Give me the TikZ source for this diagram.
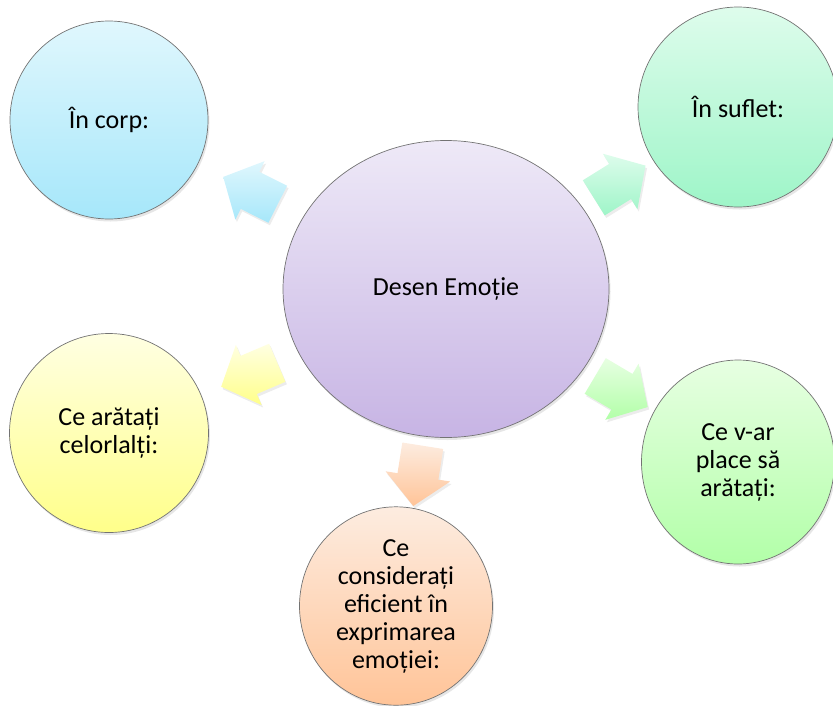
\documentclass[tikz,border=0pt]{standalone}
\usepackage{fontspec}
\setmainfont{Carlito}
\usetikzlibrary{shapes.geometric, shapes.arrows, shadows, calc}

\definecolor{corpA}{RGB}{224,247,253}
\definecolor{corpB}{RGB}{166,231,250}
\definecolor{sufletA}{RGB}{222,252,236}
\definecolor{sufletB}{RGB}{158,245,200}
\definecolor{celorA}{RGB}{255,255,226}
\definecolor{celorB}{RGB}{255,255,138}
\definecolor{placeA}{RGB}{231,255,226}
\definecolor{placeB}{RGB}{178,255,168}
\definecolor{eficA}{RGB}{253,236,224}
\definecolor{eficB}{RGB}{255,196,152}
\definecolor{desenA}{RGB}{238,233,247}
\definecolor{desenB}{RGB}{199,180,228}

\tikzset{
  bubble/.style={ellipse, draw=black!55, line width=0.7pt, align=center,
    font=\fontsize{26}{28}\selectfont,
    drop shadow={opacity=0.2, shadow xshift=1.5pt, shadow yshift=-2.5pt}},
  flow/.style={single arrow, draw=none, inner xsep=0pt, inner ysep=20.5pt,
    minimum height=61pt, single arrow head extend=12pt,
    single arrow tip angle=95,
    drop shadow={opacity=0.15, shadow xshift=1.5pt, shadow yshift=-2.5pt}}
}

\begin{document}
\begin{tikzpicture}[x=1pt, y=-1pt]
  \useasboundingbox (0,0) rectangle (833,705);

  \node[bubble, minimum width=326pt, minimum height=297pt,
        top color=desenA, bottom color=desenB] (desen) at (446,289) {Desen Emoție};

  \node[bubble, minimum size=198pt, top color=corpA, bottom color=corpB]
    (corp) at (109,120) {În corp:};
  \node[bubble, minimum size=200pt, top color=sufletA, bottom color=sufletB]
    (suflet) at (738,107) {În suflet:};
  \node[bubble, minimum size=199pt, top color=celorA, bottom color=celorB]
    (celor) at (109,433) {Ce arătați\\celorlalți:};
  \node[bubble, minimum width=193pt, minimum height=204pt,
        top color=placeA, bottom color=placeB]
    (place) at (738,462) {Ce v-ar\\place să\\arătați:};
  \node[bubble, minimum width=193pt, minimum height=197pt,
        top color=eficA, bottom color=eficB]
    (efic) at (396,606) {Ce\\considerați\\eficient în\\exprimarea\\emoției:};

  % block arrows in the gaps between the borders
  \foreach \to/\ca/\cb in {corp/corpA/corpB, suflet/sufletA/sufletB,
      celor/celorA/celorB, place/placeA/placeB, efic/eficA/eficB}
    \path let \p1 = ($(\to)-(desen)$), \n1 = {atan2(\y1,\x1)},
              \n2 = {\n1+180} in
      ($(desen.\n1)!0.42!(\to.\n2)$) node[flow, rotate=\n1,
        top color=\ca, bottom color=\cb] {};
\end{tikzpicture}
\end{document}
